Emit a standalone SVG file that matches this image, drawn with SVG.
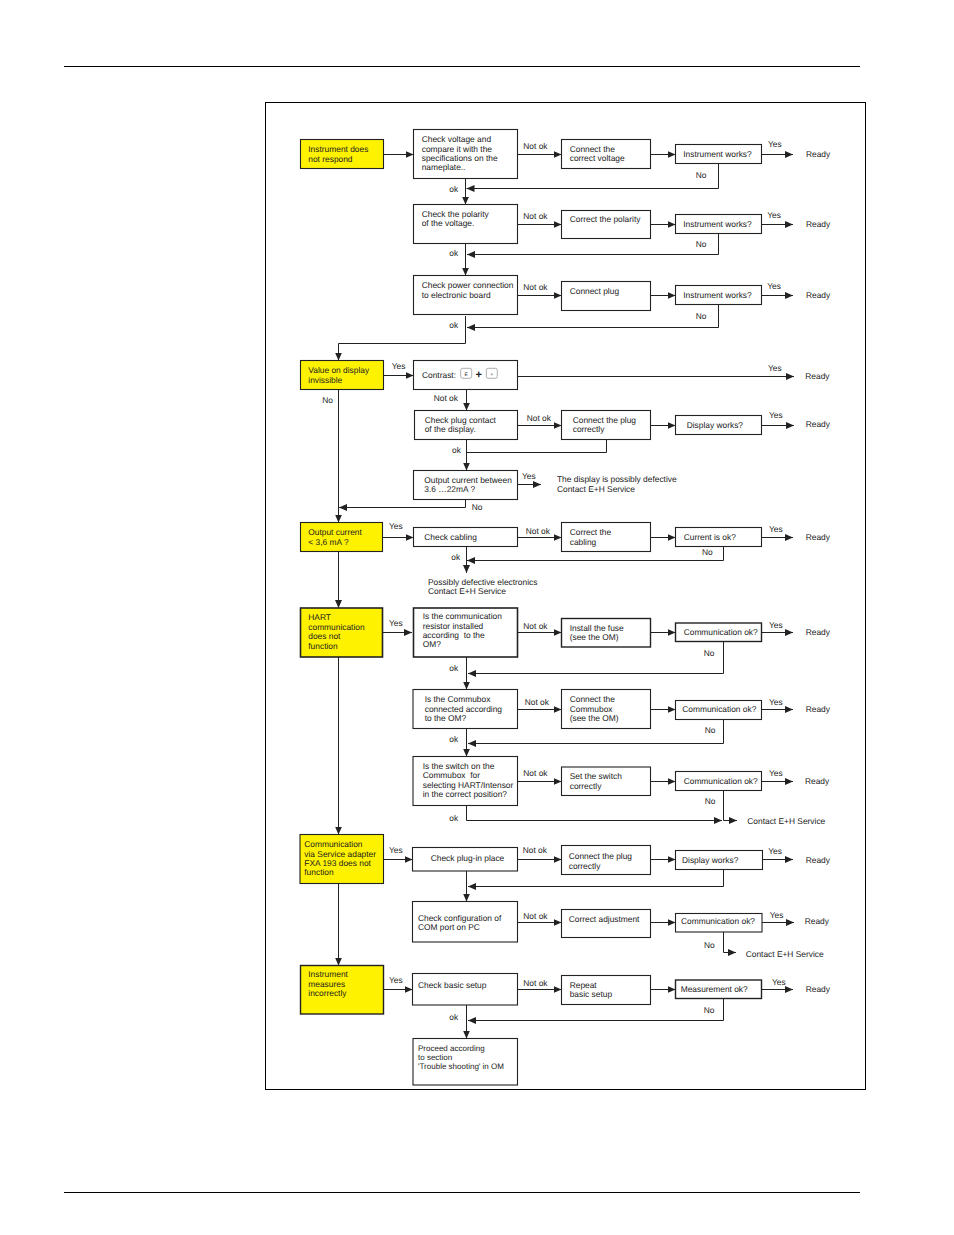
<svg xmlns="http://www.w3.org/2000/svg" width="954" height="1235" viewBox="0 0 954 1235">
<style>
text{font-family:"Liberation Sans",Arial,sans-serif;font-size:8.4px;fill:#222;text-rendering:geometricPrecision}
.b{fill:#fff;stroke:#222;stroke-width:1.1}
.y{fill:#fff200;stroke:#222;stroke-width:1.1}
.c path{fill:none;stroke:#222;stroke-width:1}
.a{marker-end:url(#ah)}
.f{fill:none;stroke:#000;stroke-width:1}
.k{fill:#fff;stroke:#999;stroke-width:.8}
</style>
<defs><marker id="ah" markerUnits="userSpaceOnUse" markerWidth="9" markerHeight="8" refX="8" refY="4" orient="auto"><path d="M0 .5L8 4L0 7.5z" fill="#222"/></marker></defs>
<rect width="954" height="1235" fill="#fff"/>
<path d="M64 66.5H860M64 1192.5H860" stroke="#000" stroke-width="1.2" fill="none"/>
<rect class="f" x="265.5" y="102.5" width="600" height="987"/>
<g id="connectors" class="c">
<path class="a" d="M383.5 154.5H413.5"/><path class="a" d="M517.5 154.5H561.5"/><path class="a" d="M650.5 154.5H675.5"/><path class="a" d="M761.5 154.5H793"/>
<path class="a" d="M718.5 163.5V188.5H466.5"/><path class="a" d="M465.5 178V204.5"/>
<path class="a" d="M517.5 224.5H561.5"/><path class="a" d="M650.5 224.5H675.5"/><path class="a" d="M761.5 224.5H793"/>
<path class="a" d="M718.5 233.5V254.5H467"/><path class="a" d="M465.5 243.5V275.5"/>
<path class="a" d="M517.5 295.5H561.5"/><path class="a" d="M650.5 295.5H675.5"/><path class="a" d="M761.5 295.5H793"/>
<path class="a" d="M718.5 304.5V327.5H467"/><path class="a" d="M465.5 316V343.5H338.5V360.5"/>
<path class="a" d="M383.5 375.5H413.5"/><path class="a" d="M517.5 376.5H794"/><path class="a" d="M466.5 389.5V410.5"/>
<path class="a" d="M517.5 425.5H561.5"/><path class="a" d="M650.5 425.5H675.5"/><path class="a" d="M761.5 425.5H794"/>
<path class="a" d="M466.5 439.5V470.5"/><path d="M466.5 452.5H606.5V439.5"/>
<path class="a" d="M517.5 484.5H541"/><path class="a" d="M465.5 499.5V507.5H339"/>
<path class="a" d="M338.5 389.5V522.5"/>
<path class="a" d="M382.5 537.5H413.5"/><path class="a" d="M517.5 537.5H561.5"/><path class="a" d="M650.5 537.5H675.5"/><path class="a" d="M761.5 537.5H793"/>
<path class="a" d="M723.5 546.5V560.5H467"/><path class="a" d="M466.5 546.5V573"/>
<path class="a" d="M338.5 551.5V608"/>
<path class="a" d="M382.5 632.5H412"/><path class="a" d="M517.5 632.5H561.5"/><path class="a" d="M650.5 632.5H675.5"/><path class="a" d="M761.5 632.5H793"/>
<path class="a" d="M723.5 641.5V673.5H468"/><path class="a" d="M466.5 657V689.5"/>
<path class="a" d="M517.5 709.5H561.5"/><path class="a" d="M650.5 709.5H675.5"/><path class="a" d="M761.5 709.5H793"/>
<path class="a" d="M723.5 719.5V743.5H468"/><path class="a" d="M466.5 728.5V756.5"/>
<path class="a" d="M517.5 781.5H561.5"/><path class="a" d="M650.5 781.5H675.5"/><path class="a" d="M761.5 781.5H793"/>
<path class="a" d="M723.5 790.5V820.5H737"/><path class="a" d="M466.5 805.5V820.5H722"/>
<path class="a" d="M338.5 657V834.5"/>
<path class="a" d="M383.5 859.5H412.5"/><path class="a" d="M517.5 859.5H561.5"/><path class="a" d="M650.5 859.5H675.5"/><path class="a" d="M762.5 859.5H793"/>
<path class="a" d="M723.5 869.5V886.5H468"/><path class="a" d="M466.5 871V901.5"/>
<path class="a" d="M517.5 922.5H561.5"/><path class="a" d="M650.5 922.5H675.5"/><path class="a" d="M762 922.5H794"/>
<path class="a" d="M723.5 932V952.5H736"/>
<path class="a" d="M338.5 883.5V965.5"/>
<path class="a" d="M383.5 989.5H412.5"/><path class="a" d="M517.5 989.5H561.5"/><path class="a" d="M650.5 989.5H675.5"/><path class="a" d="M761.5 989.5H793"/>
<path class="a" d="M723.5 998.5V1020.5H468"/><path class="a" d="M466.5 1005V1038.5"/>
</g>
<g id="n1"><rect class="y" x="300.5" y="139.5" width="83" height="29"/><text x="308.3" y="152.3">Instrument does</text><text x="308.3" y="161.7">not respond</text></g>
<g id="n2"><rect class="b" x="413.5" y="129.5" width="104" height="49"/><text x="421.7" y="142.3">Check voltage and</text><text x="421.7" y="151.7">compare it with the</text><text x="421.7" y="161">specifications on the</text><text x="421.7" y="170.3">nameplate..</text></g>
<g id="n3"><rect class="b" x="561.5" y="139.5" width="89" height="29"/><text x="569.7" y="152">Connect the</text><text x="569.7" y="161.3">correct voltage</text></g>
<g id="n4"><rect class="b" x="675.5" y="144.5" width="86" height="19"/><text x="683.3" y="157">Instrument works?</text></g>
<g id="n5"><rect class="b" x="413.5" y="204.5" width="104" height="39"/><text x="421.7" y="217">Check the polarity</text><text x="421.7" y="226.3">of the voltage.</text></g>
<g id="n6"><rect class="b" x="561.5" y="210.5" width="89" height="28"/><text x="569.7" y="222.4">Correct the polarity</text></g>
<g id="n7"><rect class="b" x="675.5" y="214.5" width="86" height="19"/><text x="683.3" y="227">Instrument works?</text></g>
<g id="n8"><rect class="b" x="413.5" y="275.5" width="104" height="39"/><text x="421.7" y="288.3">Check power connection</text><text x="421.7" y="297.7">to electronic board</text></g>
<g id="n9"><rect class="b" x="561.5" y="281.5" width="89" height="29"/><text x="569.7" y="294">Connect plug</text></g>
<g id="n10"><rect class="b" x="675.5" y="285.5" width="86" height="19"/><text x="683.3" y="298.3">Instrument works?</text></g>
<g id="n11"><rect class="y" x="300.5" y="360.5" width="83" height="29"/><text x="308.3" y="373.3">Value on display</text><text x="308.3" y="383">invissible</text></g>
<g id="n12"><rect class="b" x="413.5" y="360.5" width="104" height="29"/><text x="422" y="378.3">Contrast:</text><rect class="k" x="460.7" y="368.3" width="11" height="10" rx="2"/><text x="466.2" y="375.5" text-anchor="middle" style="font-size:5px">E</text><text x="478.7" y="378" text-anchor="middle" style="font-size:11px;font-weight:bold">+</text><rect class="k" x="486.3" y="368.3" width="11" height="10" rx="2"/><text x="491.8" y="375.5" text-anchor="middle" style="font-size:5px">+</text></g>
<g id="n13"><rect class="b" x="414.5" y="410.5" width="103" height="29"/><text x="424.7" y="423">Check plug contact</text><text x="424.7" y="432.3">of the display.</text></g>
<g id="n14"><rect class="b" x="561.5" y="410.5" width="89" height="29"/><text x="572.7" y="423">Connect the plug</text><text x="572.7" y="432.3">correctly</text></g>
<g id="n15"><rect class="b" x="675.5" y="415.5" width="86" height="19"/><text x="686.7" y="428">Display works?</text></g>
<g id="n16"><rect class="b" x="413.5" y="470.5" width="104" height="29"/><text x="424.3" y="483">Output current between</text><text x="424.3" y="492.3">3.6 …22mA ?</text></g>
<g id="n17"><rect class="y" x="300.5" y="522.5" width="82" height="29"/><text x="308.3" y="535.3">Output current</text><text x="308.3" y="544.7">&lt; 3,6 mA ?</text></g>
<g id="n18"><rect class="b" x="413.5" y="527.5" width="104" height="19"/><text x="424.3" y="540.3">Check cabling</text></g>
<g id="n19"><rect class="b" x="561.5" y="522.5" width="89" height="29"/><text x="569.7" y="535.3">Correct the</text><text x="569.7" y="544.7">cabling</text></g>
<g id="n20"><rect class="b" x="675.5" y="527.5" width="86" height="19"/><text x="683.7" y="540.3">Current is ok?</text></g>
<g id="n21"><rect class="y" x="300.5" y="608" width="82" height="49" style="stroke-width:1.6"/><text x="308.3" y="620.3">HART</text><text x="308.3" y="630">communication</text><text x="308.3" y="639.3">does not</text><text x="308.3" y="648.7">function</text></g>
<g id="n22"><rect class="b" x="413.5" y="608" width="104" height="49" style="stroke-width:1.6"/><text x="422.7" y="619.3">Is the communication</text><text x="422.7" y="628.7">resistor installed</text><text x="422.7" y="638" xml:space="preserve">according  to the</text><text x="422.7" y="647.3">OM?</text></g>
<g id="n23"><rect class="b" x="561.5" y="618.5" width="89" height="28.5" style="stroke-width:1.4"/><text x="569.7" y="630.7">Install the fuse</text><text x="569.7" y="640.3">(see the OM)</text></g>
<g id="n24"><rect class="b" x="675.5" y="623" width="86" height="18.5" style="stroke-width:1.4"/><text x="683.7" y="635.3">Communication ok?</text></g>
<g id="n25"><rect class="b" x="413" y="689.5" width="104.5" height="39"/><text x="424.7" y="702.3">Is the Commubox</text><text x="424.7" y="711.7">connected according</text><text x="424.7" y="721">to the OM?</text></g>
<g id="n26"><rect class="b" x="561.5" y="689.5" width="89" height="39"/><text x="569.7" y="702.3">Connect the</text><text x="569.7" y="711.7">Commubox</text><text x="569.7" y="721">(see the OM)</text></g>
<g id="n27"><rect class="b" x="675.5" y="700.5" width="86" height="19"/><text x="682.3" y="712.3">Communication ok?</text></g>
<g id="n28"><rect class="b" x="413" y="756.5" width="104.5" height="49"/><text x="422.7" y="768.7">Is the switch on the</text><text x="422.7" y="778" xml:space="preserve">Commubox  for</text><text x="422.7" y="787.7">selecting HART/Intensor</text><text x="422.7" y="797">in the correct position?</text></g>
<g id="n29"><rect class="b" x="561.5" y="767" width="89" height="28.5"/><text x="569.7" y="779.3">Set the switch</text><text x="569.7" y="789">correctly</text></g>
<g id="n30"><rect class="b" x="675.5" y="771.5" width="86" height="19"/><text x="683.7" y="784.3">Communication ok?</text></g>
<g id="n31"><rect class="y" x="300" y="834.5" width="83.5" height="49"/><text x="304.3" y="847.3">Communication</text><text x="304.3" y="856.7">via Service adapter</text><text x="304.3" y="866">FXA 193 does not</text><text x="304.3" y="875.3">function</text></g>
<g id="n32"><rect class="b" x="412.5" y="847.5" width="105" height="23.5"/><text x="430.7" y="861.3">Check plug-in place</text></g>
<g id="n33"><rect class="b" x="561.5" y="845.5" width="89" height="29"/><text x="568.7" y="859.4">Connect the plug</text><text x="568.7" y="869">correctly</text></g>
<g id="n34"><rect class="b" x="675.5" y="850.5" width="87" height="19"/><text x="682" y="863">Display works?</text></g>
<g id="n35"><rect class="b" x="412.5" y="901.5" width="105" height="40.5"/><text x="418" y="920.7">Check configuration of</text><text x="418" y="930">COM port on PC</text></g>
<g id="n36"><rect class="b" x="561.5" y="909.5" width="89" height="28"/><text x="568.7" y="922.3">Correct adjustment</text></g>
<g id="n37"><rect class="b" x="675.5" y="913.5" width="86.5" height="18.5"/><text x="681" y="924.4">Communication ok?</text></g>
<g id="n38"><rect class="y" x="300.5" y="965.5" width="83" height="48.5" style="stroke-width:1.4"/><text x="308.3" y="977.3">Instrument</text><text x="308.3" y="987">measures</text><text x="308.3" y="996.3">incorrectly</text></g>
<g id="n39"><rect class="b" x="412.5" y="973.5" width="105" height="31.5"/><text x="418" y="988">Check basic setup</text></g>
<g id="n40"><rect class="b" x="561.5" y="975.5" width="89" height="29"/><text x="569.7" y="988">Repeat</text><text x="569.7" y="997.3">basic setup</text></g>
<g id="n41"><rect class="b" x="675.5" y="980" width="86" height="18.5" style="stroke-width:1.4"/><text x="680.7" y="992.3">Measurement ok?</text></g>
<g id="n42"><rect class="b" x="413" y="1038.5" width="104.5" height="46.5"/><text x="418" y="1051.3" style="font-size:8px">Proceed according</text><text x="418" y="1060" style="font-size:8px">to section</text><text x="418" y="1069" style="font-size:8px">'Trouble shooting' in OM</text></g>
<g id="labels">
<text x="523.3" y="149.2">Not ok</text><text x="449.3" y="192.2">ok</text><text x="768" y="147">Yes</text><text x="806" y="157">Ready</text><text x="695.7" y="178">No</text>
<text x="523.3" y="219">Not ok</text><text x="449.3" y="256.3">ok</text><text x="767.3" y="218.3">Yes</text><text x="806" y="227">Ready</text><text x="695.7" y="247.3">No</text>
<text x="523.3" y="290">Not ok</text><text x="449.3" y="327.7">ok</text><text x="767.3" y="289.3">Yes</text><text x="806" y="298.3">Ready</text><text x="695.7" y="318.7">No</text>
<text x="391.7" y="369.3">Yes</text><text x="322.3" y="402.7">No</text><text x="433.7" y="401.3">Not ok</text><text x="768" y="371">Yes</text><text x="805.3" y="379.3">Ready</text>
<text x="526.7" y="421.3">Not ok</text><text x="769" y="418.3">Yes</text><text x="805.7" y="427">Ready</text><text x="452" y="453.3">ok</text>
<text x="522" y="479.3">Yes</text><text x="557" y="482.3">The display is possibly defective</text><text x="557" y="491.7">Contact E+H Service</text><text x="471.7" y="510.3">No</text>
<text x="389" y="529.3">Yes</text><text x="525.7" y="534.3">Not ok</text><text x="769" y="532">Yes</text><text x="805.7" y="540.3">Ready</text><text x="702" y="555.3">No</text><text x="451.3" y="559.7">ok</text>
<text x="428" y="585">Possibly defective electronics</text><text x="428" y="594.3">Contact E+H Service</text>
<text x="389" y="626">Yes</text><text x="523.3" y="628.7">Not ok</text><text x="769" y="628">Yes</text><text x="805.7" y="635.3">Ready</text><text x="703.7" y="656">No</text><text x="449.3" y="671">ok</text>
<text x="524.7" y="705">Not ok</text><text x="769" y="705.3">Yes</text><text x="805.7" y="712.3">Ready</text><text x="704.7" y="733">No</text><text x="449.3" y="742.3">ok</text>
<text x="523.3" y="776.4">Not ok</text><text x="769" y="776.3">Yes</text><text x="805" y="784.3">Ready</text><text x="704.7" y="804">No</text><text x="449.3" y="821">ok</text><text x="747.3" y="824">Contact E+H Service</text>
<text x="389" y="853">Yes</text><text x="522.7" y="853.3">Not ok</text><text x="768.3" y="854">Yes</text><text x="805.7" y="863.4">Ready</text>
<text x="523.3" y="918.7">Not ok</text><text x="769.7" y="917.7">Yes</text><text x="804.7" y="924.4">Ready</text><text x="704" y="948.3">No</text><text x="745.7" y="957">Contact E+H Service</text>
<text x="389" y="983.3">Yes</text><text x="523.3" y="985.7">Not ok</text><text x="772" y="985.3">Yes</text><text x="805.7" y="992.3">Ready</text><text x="703.7" y="1013">No</text><text x="449.3" y="1019.7">ok</text>
</g>
</svg>
